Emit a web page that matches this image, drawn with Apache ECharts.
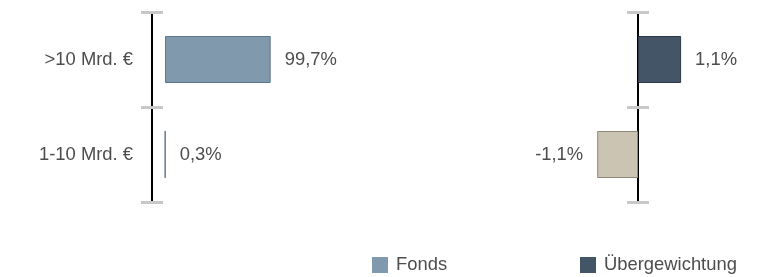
<!DOCTYPE html>
<html>
<head>
<meta charset="utf-8">
<script src="https://cdn.jsdelivr.net/npm/echarts@6/dist/echarts.min.js"></script>
<style>
    html, body { margin: 0; padding: 0; background: #fff; }
    #chart { width: 759px; height: 277px; }
</style>
</head>
<body>
<div id="chart"></div>
<script>
// Kategorien und Werte
var categories = ['>10 Mrd. €', '1-10 Mrd. €'];
var fondsValues = [99.7, 0.3];
var uebergewichtValues = [1.12, -1.06];
var legendNames = ['Fonds', 'Übergewichtung'];

var textColor = '#4d4d4d';
var tickColor = '#c8c8c8';
var fontFam = 'Liberation Sans, Arial, sans-serif';
var fontSz = 18.4;

// eine Nachkommastelle, Komma statt Punkt
function fmtPct(p) {
    return p.value.toFixed(1).replace('.', ',') + '%';
}

var chart = echarts.init(document.getElementById('chart'), null, { renderer: 'canvas' });

var uebData = uebergewichtValues.map(function (v) {
    if (v < 0) {
        return {
            value: v,
            itemStyle: { color: '#cbc4b3', borderColor: '#8e8878', borderWidth: 1 },
            label: { position: 'left' }
        };
    }
    return v;
});

// zwei Achsen pro Grid: Ticks nach aussen und nach innen
function catAxis(gridIndex, offset, inside, showLabel) {
    return {
        type: 'category',
        gridIndex: gridIndex,
        position: 'left',
        data: categories,
        inverse: true,
        offset: offset,
        axisLine: { show: true, onZero: false, lineStyle: { color: '#000', width: 2 } },
        axisTick: { show: true, inside: inside, length: 11, lineStyle: { color: tickColor, width: 3 } },
        axisLabel: { show: showLabel, margin: 19, color: textColor, fontSize: fontSz, fontFamily: fontFam },
        splitLine: { show: false }
    };
}

var option = {
    animation: false,
    grid: [
        { left: 165, top: 12, width: 106, height: 190 },
        { left: 561, top: 12, width: 154, height: 190 }
    ],
    xAxis: [
        { type: 'value', gridIndex: 0, min: 0, max: 100, show: false },
        { type: 'value', gridIndex: 1, min: -2, max: 2, show: false }
    ],
    yAxis: [
        catAxis(0, 13, false, true),
        catAxis(0, 13, true, false),
        catAxis(1, -77, false, false),
        catAxis(1, -77, true, false)
    ],
    legend: [
        {
            data: [legendNames[0]], left: 372, top: 256, padding: 0,
            itemWidth: 16, itemHeight: 16, icon: 'rect',
            itemStyle: { borderWidth: 0 },
            textStyle: { color: textColor, fontSize: fontSz, padding: [0, 0, 0, 3], fontFamily: fontFam }
        },
        {
            data: [legendNames[1]], left: 580, top: 256, padding: 0,
            itemWidth: 16, itemHeight: 16, icon: 'rect',
            itemStyle: { borderWidth: 0 },
            textStyle: { color: textColor, fontSize: fontSz, padding: [0, 0, 0, 3], fontFamily: fontFam }
        }
    ],
    series: [
        {
            name: legendNames[0],
            type: 'bar',
            xAxisIndex: 0,
            yAxisIndex: 0,
            barWidth: 47,
            data: fondsValues,
            itemStyle: { color: '#8199ad', borderColor: '#5f7589', borderWidth: 1 },
            label: {
                show: true, position: 'right', distance: 14, formatter: fmtPct,
                color: textColor, fontSize: fontSz, fontFamily: fontFam
            }
        },
        {
            name: legendNames[1],
            type: 'bar',
            xAxisIndex: 1,
            yAxisIndex: 2,
            barWidth: 47,
            data: uebData,
            itemStyle: { color: '#435566', borderColor: '#2c3a47', borderWidth: 1 },
            label: {
                show: true, position: 'right', distance: 14, formatter: fmtPct,
                color: textColor, fontSize: fontSz, fontFamily: fontFam
            }
        }
    ]
};

chart.setOption(option);
</script>
</body>
</html>
